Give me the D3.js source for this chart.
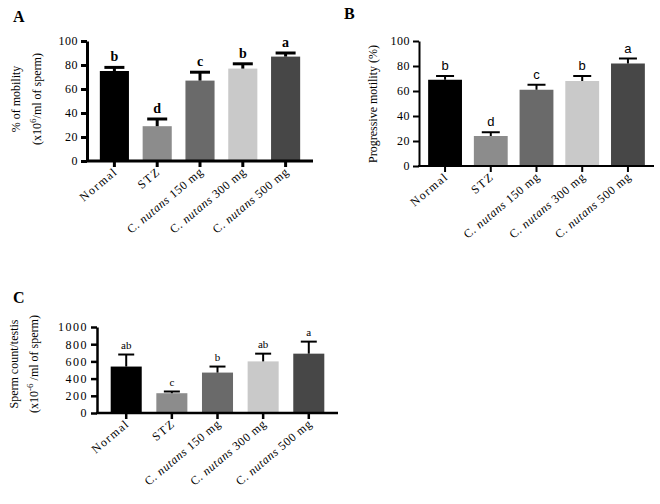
<!DOCTYPE html>
<html>
<head>
<meta charset="utf-8">
<script src="https://cdn.jsdelivr.net/npm/d3@7"></script>
<style>
  body { margin: 0; background: #fff; }
  svg { display: block; font-family: "Liberation Serif", "Times New Roman", serif; }
</style>
</head>
<body>
<svg id="chart" width="660" height="504"></svg>
<script>
// groups shown on every panel
const groups = ["Normal", "STZ", "150", "300", "500"];
const barColors = ["#000000", "#8c8c8c", "#6a6a6a", "#c9c9c9", "#474747"];

// panel A: % of mobility
const mobility = [75, 29, 67, 77, 87];
const mobilityErr = [3, 6, 7, 4, 3];
const mobilityLetters = ["b", "d", "c", "b", "a"];
const mobilityTicks = [0, 20, 40, 60, 80, 100];

// panel B: progressive motility
const progressive = [69, 24, 61, 68, 82];
const progressiveErr = [3, 3, 4, 4, 4];
const progressiveLetters = ["b", "d", "c", "b", "a"];
const progressiveTicks = [0, 20, 40, 60, 80, 100];

// panel C: sperm count
const spermCount = [540, 230, 470, 600, 690];
const spermCountErr = [140, 20, 70, 90, 140];
const spermCountLetters = ["ab", "c", "b", "ab", "a"];
const spermCountTicks = [0, 200, 400, 600, 800, 1000];

const svg = d3.select("#chart");

function drawPanel(opt) {
  const g = svg.append("g");
  const x = d3.scaleBand()
    .domain(groups)
    .range([opt.left, opt.right])
    .paddingInner(opt.padIn)
    .paddingOuter(opt.padOut);
  const y = d3.scaleLinear()
    .domain([0, opt.max])
    .range([opt.bottom, opt.top]);

  // bars
  g.selectAll(".bar")
    .data(opt.values)
    .enter().append("rect")
    .attr("x", (d, i) => x(groups[i]))
    .attr("y", d => y(d))
    .attr("width", x.bandwidth())
    .attr("height", d => y(0) - y(d))
    .attr("fill", (d, i) => barColors[i]);

  // error bars, upper half only
  opt.values.forEach((v, i) => {
    const cx = x(groups[i]) + x.bandwidth() / 2;
    const top = y(v + opt.err[i]);
    g.append("line")
      .attr("x1", cx).attr("x2", cx)
      .attr("y1", y(v)).attr("y2", top)
      .attr("stroke", "#000").attr("stroke-width", opt.errWidth);
    g.append("line")
      .attr("x1", cx - opt.cap).attr("x2", cx + opt.cap)
      .attr("y1", top).attr("y2", top)
      .attr("stroke", "#000").attr("stroke-width", opt.errWidth);
    g.append("text")
      .attr("x", cx)
      .attr("y", top - 6)
      .attr("text-anchor", "middle")
      .style("font-family", opt.letterFont)
      .style("font-size", opt.letterSize + "px")
      .style("font-weight", opt.letterWeight)
      .text(opt.letters[i]);
  });

  // y axis
  const yAxis = g.append("g")
    .attr("transform", `translate(${opt.left},0)`)
    .call(d3.axisLeft(y).tickValues(opt.ticks).tickFormat(d3.format("d"))
      .tickSize(6).tickPadding(3).tickSizeOuter(0));
  yAxis.select(".domain").attr("stroke-width", opt.axisWidth);
  yAxis.selectAll(".tick line").attr("stroke-width", opt.axisWidth);
  yAxis.selectAll(".tick text")
    .style("font-family", "Liberation Serif, serif")
    .style("font-size", opt.tickSize + "px")
    .style("letter-spacing", opt.tickSpacing + "px")
    .attr("fill", "#000");

  // x axis
  const xAxis = g.append("g")
    .attr("transform", `translate(0,${opt.bottom})`)
    .call(d3.axisBottom(x).tickSize(6).tickSizeOuter(0).tickFormat(""));
  xAxis.select(".domain")
    .attr("d", `M${opt.left - 1},0H${opt.right}`)
    .attr("stroke-width", opt.axisWidth);
  xAxis.selectAll(".tick line").attr("stroke-width", opt.axisWidth);

  // rotated category labels
  groups.forEach(name => {
    const cx = x(name) + x.bandwidth() / 2;
    const t = g.append("text")
      .attr("transform", `translate(${cx + 4},${opt.bottom + 12}) rotate(-40)`)
      .attr("text-anchor", "end")
      .style("font-size", opt.catSize + "px");
    if (name === "Normal" || name === "STZ") {
      t.style("letter-spacing", "1.4px").text(name);
    } else {
      t.style("letter-spacing", "0.6px");
      t.append("tspan").text("C. ");
      t.append("tspan").style("font-style", "italic").text("nutans");
      t.append("tspan").text("  " + name + " mg");
    }
  });

  // y labels
  opt.yLabels.forEach((lab, i) => {
    const t = g.append("text")
      .attr("transform", `translate(${opt.yLabelX[i]},${opt.yLabelY}) rotate(-90)`)
      .attr("text-anchor", "middle")
      .style("font-size", opt.yLabelSize + "px");
    lab.forEach(part => {
      const s = t.append("tspan").text(part.t);
      if (part.sup) s.attr("baseline-shift", "super").style("font-size", (opt.yLabelSize - 3) + "px");
    });
  });

  // panel letter
  svg.append("text")
    .attr("x", opt.titleX).attr("y", opt.titleY)
    .style("font-size", "16px")
    .style("font-weight", "bold")
    .text(opt.title);
}

drawPanel({
  title: "A", titleX: 13, titleY: 22,
  values: mobility, err: mobilityErr, letters: mobilityLetters, ticks: mobilityTicks, max: 100,
  left: 87, right: 313, top: 41, bottom: 161, padIn: 0.32, padOut: 0.3,
  cap: 10, errWidth: 3, axisWidth: 3, tickSize: 12, tickSpacing: 0.5,
  letterFont: "Liberation Serif, serif", letterSize: 14, letterWeight: "bold",
  catSize: 12,
  yLabels: [[{t: "% of mobility"}], [{t: "(x10"}, {t: "6", sup: true}, {t: "/ml of sperm)"}]],
  yLabelX: [20, 41], yLabelY: 99, yLabelSize: 12
});

drawPanel({
  title: "B", titleX: 344, titleY: 19,
  values: progressive, err: progressiveErr, letters: progressiveLetters, ticks: progressiveTicks, max: 100,
  left: 419, right: 654, top: 41, bottom: 166, padIn: 0.26, padOut: 0.2,
  cap: 9, errWidth: 2, axisWidth: 2, tickSize: 12, tickSpacing: 0.5,
  letterFont: "Liberation Sans, Arial, sans-serif", letterSize: 13, letterWeight: "normal",
  catSize: 12,
  yLabels: [[{t: "Progressive motility (%)"}]],
  yLabelX: [377], yLabelY: 104, yLabelSize: 12
});

drawPanel({
  title: "C", titleX: 13, titleY: 303,
  values: spermCount, err: spermCountErr, letters: spermCountLetters, ticks: spermCountTicks, max: 1000,
  left: 97, right: 338, top: 327, bottom: 413, padIn: 0.32, padOut: 0.3,
  cap: 8, errWidth: 2, axisWidth: 2.5, tickSize: 12, tickSpacing: 1.5,
  letterFont: "Liberation Serif, serif", letterSize: 11, letterWeight: "normal",
  catSize: 12,
  yLabels: [[{t: "Sperm count/testis"}], [{t: "(x10"}, {t: "-6", sup: true}, {t: " /ml of sperm)"}]],
  yLabelX: [18, 38], yLabelY: 364, yLabelSize: 12
});
</script>
</body>
</html>
